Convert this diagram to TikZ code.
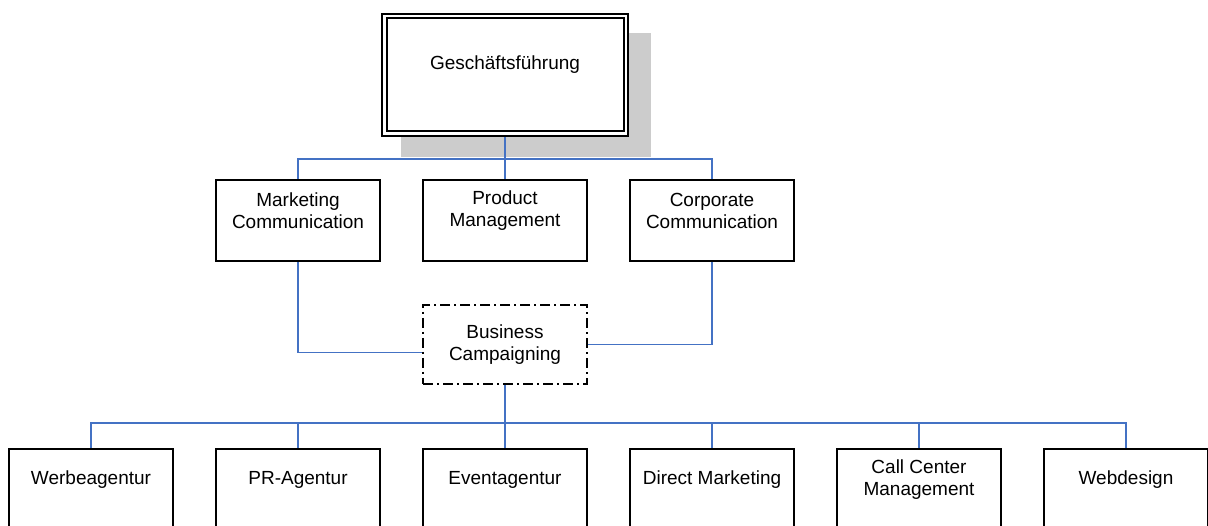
\documentclass[tikz,border=0pt]{standalone}
\usepackage{fontspec}
\setmainfont{Liberation Sans}
\usetikzlibrary{backgrounds}
\definecolor{linkblue}{RGB}{68,114,196}
\definecolor{shadowgray}{RGB}{204,204,204}

\begin{document}
\begin{tikzpicture}[x=1pt, y=1pt,
    every node/.style = {font=\fontsize{19}{22}\selectfont, align=center},
    unit/.style = {draw, line width=1.8pt, fill=white, inner sep=0pt,
                   minimum width=164pt, minimum height=81pt},
    head/.style = {draw, double, line width=2pt, double distance=2.5pt, fill=white,
                   minimum width=241.5pt, minimum height=117.5pt},
    staff/.style = {unit, minimum height=79pt,
                    dash pattern=on 10pt off 4pt on 2pt off 4pt},
    link/.style = {draw=linkblue, line width=1.5pt},
    txt/.style = {yshift=10pt}]
  \useasboundingbox (0,0) rectangle (1208,526);
  \clip (0,0) rectangle (1208,526);

  % management on top
  \node[head, label={[txt]center:Geschäftsführung}] (gf) at (505,451) {};

  % departments
  \node[unit, label={[txt]center:Marketing\\Communication}] (mc) at (298,305.5) {};
  \node[unit, label={[txt]center:Product\\Management}] (pm) at (505,305.5) {};
  \node[unit, label={[txt]center:Corporate\\Communication}] (cc) at (712,305.5) {};

  \node[staff] (bc) at (505,181.5) {Business\\Campaigning};

  % agencies
  \foreach \name/\txt [count=\i] in {wa/Werbeagentur, pr/PR-Agentur, ea/Eventagentur,
      dm/Direct Marketing, ccm/{Call Center\\Management}, wd/Webdesign}
    \node[unit, label={[txt]center:\txt}] (\name) at (207*\i-116,36.5) {};

  \begin{scope}[on background layer]
    \fill[shadowgray] (401,493) rectangle (651,369);
    \foreach \n in {mc,pm,cc}
      \draw[link] (gf.south) -- ++(0,-24.25) -| (\n.north);
    \draw[link] (mc.south) |- ([yshift=-8pt]bc.west);
    \draw[link] (cc.south) |- (bc.east);
    \foreach \n in {wa,pr,ea,dm,ccm,wd}
      \draw[link] (bc.south) -- ++(0,-38) -| (\n.north);
  \end{scope}
\end{tikzpicture}
\end{document}
